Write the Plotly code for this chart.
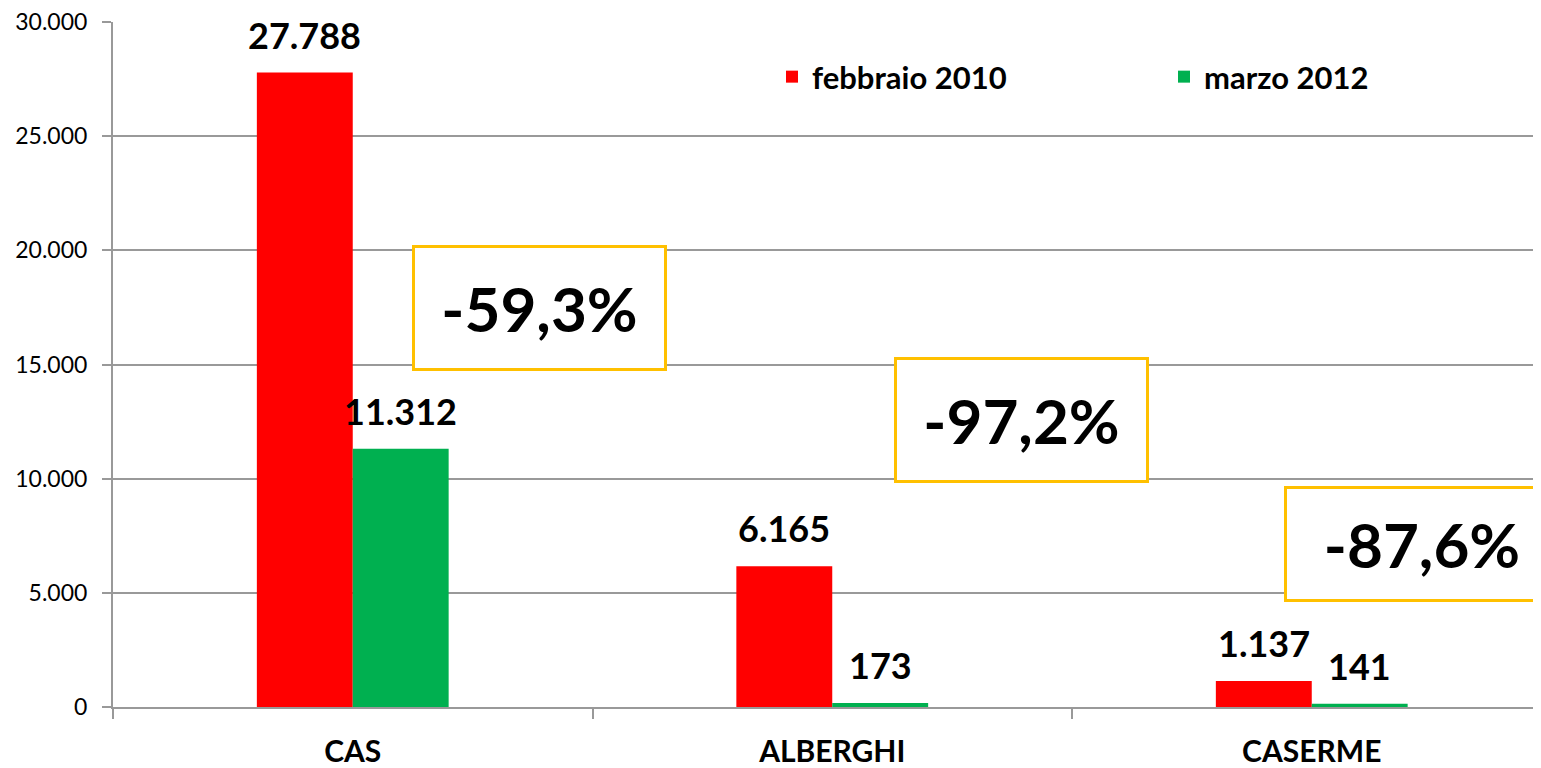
import plotly.graph_objects as go

categories = ["CAS", "ALBERGHI", "CASERME"]
feb2010 = [27788, 6165, 1137]
mar2012 = [11312, 173, 141]
series_names = ["febbraio 2010", "marzo 2012"]
pct_labels = ["-59,3%", "-97,2%", "-87,6%"]
y_ticks = [0, 5000, 10000, 15000, 20000, 25000, 30000]

OFF = 8  # page body margin
W, H = 1541, 768
L, R, T, B = 105, 0, 14, 69
PW = W - L - R
PH = H - T - B
CAT_W = 479.5

def px_x(p):
    return (p - OFF - L) / PW

def px_y(p):
    return (H - B - (p - OFF)) / PH

fig = go.Figure()
fig.add_trace(go.Bar(
    x=categories, y=feb2010, name=series_names[0],
    marker=dict(color="#FF0000", line=dict(width=0)),
))
fig.add_trace(go.Bar(
    x=categories, y=mar2012, name=series_names[1],
    marker=dict(color="#00B050", line=dict(width=0)),
))

annots = []
# value labels above each bar (bar centres at category index -/+ 0.1)
for si, vals in enumerate([feb2010, mar2012]):
    for ci, v in enumerate(vals):
        annots.append(dict(
            x=ci + (-0.1 if si == 0 else 0.1), y=v, xref="x", yref="y",
            text=f"{v:,}".replace(",", "."), showarrow=False,
            xanchor="center", yanchor="bottom", yshift=14,
            font=dict(family="Lato", size=36, color="black", weight="bold"),
        ))

centers = [(539, 307.5, "center", 249, 120), (1021, 419.5, "center", 249, 120), (1284, 543.5, "left", 270, 110)]
for (cx, cy, xa, w, h), txt in zip(centers, pct_labels):
    annots.append(dict(
        x=px_x(cx), y=px_y(cy), xref="paper", yref="paper",
        xanchor=xa, yanchor="middle", text=txt, showarrow=False,
        font=dict(family="Lato", size=62, color="black", weight="bold"),
        bordercolor="#FFC000", borderwidth=3, borderpad=0,
        bgcolor="white", width=w, height=h, align="center", valign="middle",
    ))

fig.update_layout(
    width=W, height=H,
    margin=dict(l=L, r=R, t=T, b=B, pad=0, autoexpand=False),
    paper_bgcolor="white", plot_bgcolor="white",
    separators=",.",
    barmode="group", bargap=0.6, bargroupgap=0,
    font=dict(family="Lato", color="black"),
    legend=dict(
        orientation="h", x=px_x(772), y=px_y(77), xanchor="left", yanchor="middle",
        font=dict(family="Lato", size=31, color="black", weight="bold"),
        entrywidth=347, entrywidthmode="pixels",
        bgcolor="rgba(0,0,0,0)", itemclick=False,
    ),
    annotations=annots,
    showlegend=True,
)
fig.update_xaxes(
    type="category", range=[-0.5, -0.5 + PW / CAT_W], automargin=False,
    showgrid=False, showline=True, linecolor="#999999", linewidth=2,
    ticks="outside", tickson="boundaries", ticklen=10, tickcolor="#999999", tickwidth=2,
    tickfont=dict(family="Lato", size=30, color="black", weight="bold"),
    ticklabelstandoff=17, zeroline=False, ticklabeloverflow="allow",
)
fig.update_yaxes(
    range=[0, 30000], tickvals=y_ticks, tickformat=",", automargin=False,
    showgrid=True, gridcolor="#999999", gridwidth=2,
    showline=True, linecolor="#999999", linewidth=2,
    ticks="outside", ticklen=9, tickcolor="#999999", tickwidth=2,
    tickfont=dict(family="Lato", size=23, color="black"),
    ticklabelstandoff=10, zeroline=False, ticklabeloverflow="allow",
)

fig.write_html("out.html")
